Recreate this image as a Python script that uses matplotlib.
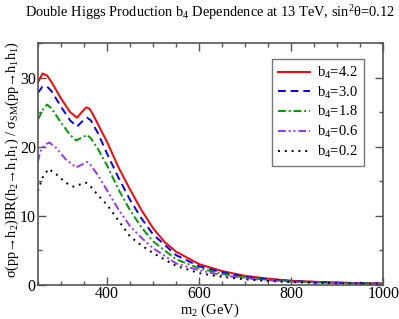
import matplotlib
matplotlib.use("Agg")
import matplotlib.pyplot as plt
from matplotlib.ticker import MultipleLocator

plt.rcParams['font.family'] = ['Liberation Serif', 'DejaVu Serif']
plt.rcParams['mathtext.fontset'] = 'custom'
plt.rcParams['mathtext.rm'] = 'Liberation Serif'
plt.rcParams['mathtext.it'] = 'Liberation Serif:italic'

m_red = [250, 260, 270, 280, 300, 320, 335, 345, 355, 362, 370, 380, 400, 425, 450, 475, 500, 525, 550, 600, 650, 700, 750, 800, 850, 900, 950, 1000]
y_red = [29.3, 30.6, 30.3, 29.3, 27.0, 25.0, 24.2, 25.0, 25.7, 25.5, 24.6, 23.3, 20.7, 17.0, 13.8, 10.8, 8.2, 6.2, 4.8, 3.0, 2.0, 1.3, 0.9, 0.6, 0.45, 0.35, 0.25, 0.2]

m_blue = [250, 260, 270, 280, 300, 320, 335, 345, 357, 365, 380, 400, 425, 450, 475, 500, 550, 600, 650, 700, 750, 800, 900, 1000]
y_blue = [27.8, 28.7, 28.7, 28.0, 25.8, 23.8, 22.9, 23.6, 24.2, 23.8, 22.0, 19.0, 15.5, 12.3, 9.6, 7.3, 4.3, 2.7, 1.8, 1.15, 0.8, 0.55, 0.3, 0.18]

m_green = [250, 260, 270, 280, 300, 320, 333, 345, 357, 365, 380, 400, 425, 450, 475, 500, 550, 600, 650, 700, 750, 800, 900, 1000]
y_green = [23.9, 25.3, 26.1, 25.5, 23.5, 21.7, 20.9, 21.3, 21.7, 21.2, 19.7, 17.3, 13.8, 10.8, 8.3, 6.3, 3.7, 2.4, 1.6, 1.05, 0.72, 0.5, 0.28, 0.17]

m_purple = [250, 255, 265, 275, 290, 310, 333, 345, 357, 365, 380, 400, 425, 450, 475, 500, 550, 600, 650, 700, 750, 800, 900, 1000]
y_purple = [17.8, 19.3, 20.3, 20.6, 19.8, 18.2, 17.0, 17.4, 17.8, 17.3, 15.9, 13.7, 10.9, 8.5, 6.8, 5.3, 3.1, 2.1, 1.4, 0.95, 0.65, 0.45, 0.25, 0.15]

m_black = [250, 260, 273, 290, 310, 328, 340, 354, 365, 380, 400, 425, 450, 475, 500, 550, 600, 650, 700, 750, 800, 900, 1000]
y_black = [13.6, 15.5, 16.8, 16.0, 14.8, 14.2, 14.5, 14.8, 14.2, 13.0, 11.6, 9.3, 7.0, 5.7, 4.6, 2.75, 1.7, 1.15, 0.8, 0.55, 0.4, 0.22, 0.13]

labels = [r'b$_4$=4.2', r'b$_4$=3.0', r'b$_4$=1.8', r'b$_4$=0.6', r'b$_4$=0.2']

fig = plt.figure(figsize=(3.99, 3.19), dpi=100)
ax = fig.add_axes([0.095, 0.107, 0.866, 0.758])

lw = 1.4
ax.plot(m_red, y_red, color='#ff0000', lw=lw, ls='-', label=labels[0])
ax.plot(m_blue, y_blue, color='#0000ff', lw=lw, ls=(0, (4, 2.5)), label=labels[1])
ax.plot(m_green, y_green, color='#009900', lw=lw, ls=(0, (4, 1.5, 1, 1.5)), label=labels[2])
ax.plot(m_purple, y_purple, color='#9933ff', lw=lw, ls=(0, (4, 1.5, 1, 1.5, 1, 1.5)), label=labels[3])
ax.plot(m_black, y_black, color='black', lw=lw, ls=(0, (1, 2.5)), label=labels[4])

ax.set_xlim(250, 1000)
ax.set_ylim(0, 35)
ax.xaxis.set_major_locator(MultipleLocator(200))
ax.xaxis.set_minor_locator(MultipleLocator(50))
ax.yaxis.set_major_locator(MultipleLocator(10))
ax.yaxis.set_minor_locator(MultipleLocator(5))
ax.tick_params(which='both', direction='in', top=True, right=True, labelsize=11.5,
               colors='#555555', labelcolor='black', pad=1.5)
ax.tick_params(axis='x', which='both', pad=0.5)
ax.tick_params(which='major', length=6, width=1)
ax.tick_params(which='minor', length=3, width=1)
for s in ax.spines.values():
    s.set_color('#555555')
    s.set_linewidth(1.2)

fig.text(0.525, 0.028, r'm$_2$ (GeV)', ha='center', va='center', fontsize=10.5)
fig.text(0.03, 0.5, r'σ(pp→h$_2$)BR(h$_2$→h$_1$h$_1$) / σ$_{\rm SM}$(pp→h$_1$h$_1$)',
         rotation=90, ha='center', va='center', fontsize=10.3)
fig.text(0.525, 0.962, r'Double Higgs Production b$_4$ Dependence at 13 TeV, sin$^2$θ=0.12',
         ha='center', va='center', fontsize=10.4)

leg = ax.legend(loc='upper right', bbox_to_anchor=(0.944, 0.934), fontsize=10.5, frameon=True,
                fancybox=False, edgecolor='#555555', handlelength=2.2, handletextpad=0.5,
                labelspacing=0.25, borderpad=0.4, borderaxespad=0)
leg.get_frame().set_linewidth(1.0)

fig.savefig('out.png', dpi=100)
